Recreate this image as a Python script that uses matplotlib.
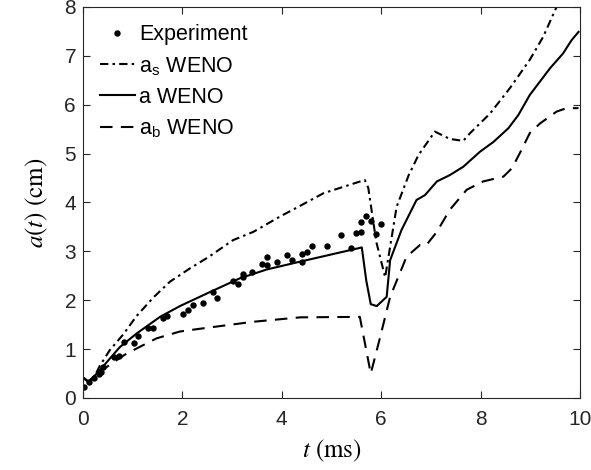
import numpy as np
import matplotlib.pyplot as plt

plt.rcParams['font.family'] = ['Liberation Sans', 'DejaVu Sans']
plt.rcParams['mathtext.fontset'] = 'stix'

# Experiment points
t_exp = [0.02, 0.13, 0.23, 0.32, 0.36, 0.41, 0.63, 0.72, 0.82, 1.02, 1.11, 1.31, 1.41,
         1.62, 1.70, 2.01, 2.11, 2.21, 2.41, 2.61, 2.70, 3.01, 3.11, 3.21, 3.21, 3.41,
         3.61, 3.71, 3.71, 3.91, 4.11, 4.21, 4.40, 4.40, 4.50, 4.61, 4.90, 5.20, 5.40,
         5.50, 5.60, 5.60, 5.70, 5.80, 5.90, 6.00]
a_exp = [0.22, 0.33, 0.40, 0.49, 0.54, 0.64, 0.83, 0.85, 1.14, 1.12, 1.27, 1.44, 1.43,
         1.63, 1.68, 1.71, 1.80, 1.90, 1.95, 2.17, 2.05, 2.39, 2.33, 2.53, 2.47, 2.58,
         2.74, 2.89, 2.72, 2.78, 2.93, 2.82, 2.95, 2.78, 2.99, 3.10, 3.11, 3.34, 3.06,
         3.37, 3.39, 3.61, 3.73, 3.63, 3.36, 3.55]

# a_s WENO
t_s = [0.0, 0.11, 0.24, 0.34, 0.54, 0.81, 1.08, 1.42, 1.75, 2.15, 2.52, 3.02, 3.43,
       3.96, 4.33, 4.84, 5.67, 5.74, 5.90, 6.08, 6.31, 6.55, 6.75, 7.08, 7.38, 7.65,
       7.79, 8.19, 8.59, 8.99, 9.26, 9.55]
a_s = [0.42, 0.33, 0.46, 0.66, 0.98, 1.30, 1.68, 2.06, 2.38, 2.65, 2.88, 3.23, 3.40,
       3.71, 3.91, 4.19, 4.46, 4.30, 3.20, 2.47, 3.91, 4.55, 4.97, 5.45, 5.30, 5.26,
       5.42, 5.82, 6.34, 6.92, 7.39, 8.05]

# a WENO
t_a = [0.0, 0.11, 0.24, 0.40, 0.74, 1.08, 1.55, 1.95, 2.56, 3.16, 3.70, 4.37, 5.61,
       5.70, 5.79, 5.91, 6.11, 6.18, 6.41, 6.71, 6.88, 7.12, 7.38, 7.65, 7.99, 8.26,
       8.56, 8.76, 8.99, 9.40, 9.66, 9.83, 9.97]
a_a = [0.42, 0.33, 0.46, 0.64, 1.04, 1.32, 1.66, 1.88, 2.17, 2.45, 2.63, 2.79, 3.08,
       2.40, 1.92, 1.88, 2.07, 2.82, 3.44, 4.05, 4.15, 4.43, 4.56, 4.73, 5.04, 5.24,
       5.52, 5.79, 6.20, 6.75, 7.05, 7.32, 7.49]

# a_b WENO
t_b = [0.0, 0.11, 0.24, 0.58, 0.88, 1.48, 1.95, 2.45, 3.43, 4.37, 5.57, 5.79, 5.98,
       6.18, 6.51, 6.78, 6.91, 7.12, 7.38, 7.72, 8.05, 8.46, 8.63, 8.79, 8.99, 9.20,
       9.53, 9.73, 9.97]
a_b = [0.42, 0.33, 0.46, 0.71, 0.91, 1.22, 1.36, 1.43, 1.56, 1.65, 1.66, 0.50, 1.25,
       2.07, 2.89, 3.13, 3.13, 3.40, 3.85, 4.26, 4.43, 4.53, 4.70, 5.01, 5.42, 5.62,
       5.86, 5.93, 5.93]

fig = plt.figure(figsize=(5.91, 4.70), dpi=100)
ax = fig.add_axes([0.1404, 0.1532, 0.841, 0.832])

ax.plot(t_exp, a_exp, 'ko', markersize=4.6, markeredgewidth=0, label='Experiment')
ax.plot(t_s, a_s, color='k', lw=1.5, dashes=(4, 2, 1.2, 2), label=r'a$_\mathregular{s}$ WENO')
ax.plot(t_a, a_a, color='k', lw=1.5, label='a WENO')
ax.plot(t_b, a_b, color='k', lw=1.5, dashes=(6, 4), label=r'a$_\mathregular{b}$ WENO')

ax.set_xlim(0, 10)
ax.set_ylim(0, 8)
ax.set_xticks(np.arange(0, 11, 2))
ax.set_yticks(np.arange(0, 9, 1))
ax.tick_params(direction='in', top=True, right=True, labelsize=15,
               colors='#262626', length=5, width=0.8)
ax.tick_params(axis='x', pad=9)
ax.tick_params(axis='y', pad=5)
for s in ax.spines.values():
    s.set_color('#262626')
    s.set_linewidth(0.8)

ax.set_xlabel(r'$t$ (ms)', fontsize=18, family='STIXGeneral', labelpad=6)
ax.set_ylabel(r'$a(t)$ (cm)', fontsize=18, family='STIXGeneral', labelpad=10)

leg = ax.legend(loc='upper left', frameon=False, fontsize=15.5,
                handlelength=1.6, handletextpad=0.2, labelspacing=0.45,
                borderaxespad=0.4, borderpad=0.4)

fig.savefig('out.png', dpi=100)
